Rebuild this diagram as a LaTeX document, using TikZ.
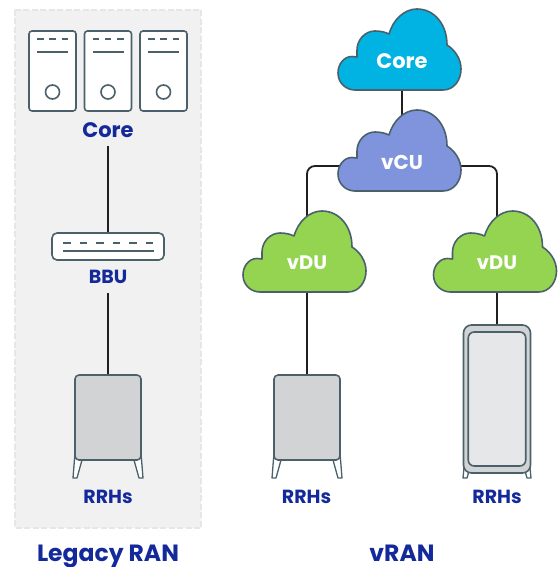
\documentclass[tikz,border=0pt]{standalone}
\usepackage{fontspec}
\setmainfont{Poppins}
\usetikzlibrary{backgrounds}
\definecolor{stk}{HTML}{4A616B}
\definecolor{lbl}{HTML}{14299A}
\definecolor{wire}{HTML}{231F20}
\definecolor{panel}{HTML}{F1F1F1}
\definecolor{panelb}{HTML}{E6E6E6}
\definecolor{boxg}{HTML}{D1D3D4}
\definecolor{boxl}{HTML}{E6E7E8}
\definecolor{ccore}{HTML}{00B3E3}
\definecolor{cvcu}{HTML}{7F94DC}
\definecolor{cvdu}{HTML}{94D451}
\tikzset{
  x=1pt,y=-1pt,
  conn/.style={draw=wire,line width=1.8pt},
  stroke/.style={draw=stk,line width=1.6pt,line join=round},
  tick/.style={draw=stk,line width=1.6pt},
  caption/.style={font=\bfseries\fontsize{19}{19}\selectfont,text=lbl,inner sep=0pt},
  title/.style={font=\bfseries\fontsize{23.5}{23.5}\selectfont,text=lbl,inner sep=0pt,anchor=base},
  cloudtext/.style={font=\bfseries\fontsize{20}{20}\selectfont,text=white,inner sep=0pt},
  serverbox/.style={stroke,fill=white,rounded corners=3pt,minimum width=47pt,minimum height=80pt,inner sep=0pt},
  rrhbox/.style={stroke,fill=boxg,rounded corners=4pt,minimum width=66pt,minimum height=85pt,inner sep=0pt},
  leg/.style={draw=stk,line width=1.3pt,line join=round,fill=white},
  cloudpic/.pic={
    \path[stroke,pic actions]
      (17,81) -- (105,81)
      .. controls (116,81) and (123,71) .. (123,60)
      .. controls (123,50) and (117,41) .. (109,36)
      .. controls (109,15) and (96,0) .. (79,0)
      .. controls (66,0) and (55,11) .. (51,25)
      .. controls (47,23) and (42,22) .. (37,22)
      .. controls (27,22) and (19,31) .. (19,41)
      .. controls (19,44) and (19,46) .. (19,48)
      .. controls (17,47.5) and (16,47.5) .. (14,47.5)
      .. controls (6,47.5) and (0,55) .. (0,64)
      .. controls (0,74) and (8,81) .. (17,81) -- cycle;
  },
  serverpic/.pic={
    \draw[tick] (-15.5,8) -- (-9,8) (-3.2,8) -- (3.2,8) (9,8) -- (15.5,8);
    \draw[tick] (-15.5,21) -- (15.5,21);
    \draw[tick] (0,61) circle (7);
  },
  rrhlegs/.pic={
    \draw[leg] (-33,78) -- (-35,103) -- (-31,103) -- (-26,85) -- cycle;
    \draw[leg] (33,78) -- (35,103) -- (31,103) -- (26,85) -- cycle;
  }
}
\begin{document}
\begin{tikzpicture}
\useasboundingbox (0,0) rectangle (557,567);
\begin{scope}[on background layer]
  \fill[white] (0,0) rectangle (557,567);
  \draw[fill=panel,draw=panelb,line width=2.5pt,dash pattern=on 6pt off 2.5pt] (15,10) rectangle (201,528);
\end{scope}

% Legacy RAN
\node[serverbox] (s1) at (52.5,71) {};
\node[serverbox] (s2) at (108,71) {};
\node[serverbox] (s3) at (163.5,71) {};
\pic at (52.5,31) {serverpic};
\pic at (108,31) {serverpic};
\pic at (163.5,31) {serverpic};
\node[caption,font=\bfseries\fontsize{21}{21}\selectfont,minimum height=32pt] (corelegacy) at (108,130) {Core};
\node[stroke,fill=white,rounded corners=5pt,minimum width=112pt,minimum height=27pt,inner sep=0pt] (bbu) at (108,246.5) {};
\draw[tick,dash pattern=on 7.5pt off 9pt] (63,243) -- (154,243);
\draw[tick,line width=1.3pt] (63,251) -- (154,251);
\node[caption,minimum height=32pt] (bbulabel) at (108,277) {BBU};
\pic at (108,375) {rrhlegs};
\node[rrhbox] (rrha) at (108,417.5) {};
\node[caption] (rrhalabel) at (108,497) {RRHs};
\node[title] (legacy) at (108,561) {Legacy RAN};

% vRAN clouds
\coordinate (ccore) at (402,50);
\coordinate (cvcu) at (402,166);
\coordinate (cvdul) at (307,252);
\coordinate (cvdur) at (497,252);
\pic[fill=ccore] at (338,9) {cloudpic};
\pic[fill=cvcu] at (338,110) {cloudpic};
\pic[fill=cvdu] at (243,211) {cloudpic};
\pic[fill=cvdu] at (433.5,211) {cloudpic};
\node[cloudtext,font=\bfseries\fontsize{21}{21}\selectfont] (tcore) at (402,61) {Core};
\node[cloudtext] (tvcu) at (402,162) {vCU};
\node[cloudtext,font=\bfseries\fontsize{19.5}{19.5}\selectfont] (tvdul) at (307,263) {vDU};
\node[cloudtext,font=\bfseries\fontsize{19.5}{19.5}\selectfont] (tvdur) at (497,263) {vDU};

% vRAN radios
\pic at (307,375) {rrhlegs};
\node[rrhbox] (rrhb) at (307,417.5) {};
\node[caption] (rrhblabel) at (306.5,497) {RRHs};
\draw[leg] (464,468) -- (463,478) -- (467,478) -- (469,471) -- cycle;
\draw[leg] (530,468) -- (531,478) -- (527,478) -- (525,471) -- cycle;
\node[stroke,fill=boxg,rounded corners=8pt,minimum width=67pt,minimum height=148pt,inner sep=0pt] (rack) at (497,399) {};
\node[stroke,fill=boxl,rounded corners=6pt,minimum width=57.5pt,minimum height=134pt,inner sep=0pt] (rackin) at (497,399) {};
\node[caption] (rrhclabel) at (497,497) {RRHs};
\node[title] (vran) at (402,561) {vRAN};

% Connectors
\begin{scope}[on background layer]
  \draw[conn] (corelegacy.south) -- (bbu.north);
  \draw[conn] (bbulabel.south) -- (rrha.north);
  \draw[conn] (ccore) -- (cvcu);
  \draw[conn,rounded corners=8pt] (cvcu) -| (cvdul);
  \draw[conn,rounded corners=8pt] (cvcu) -| (cvdur);
  \draw[conn] (cvdul) -- (rrhb.north);
  \draw[conn] (cvdur) -- (rack.north);
\end{scope}
\end{tikzpicture}
\end{document}
